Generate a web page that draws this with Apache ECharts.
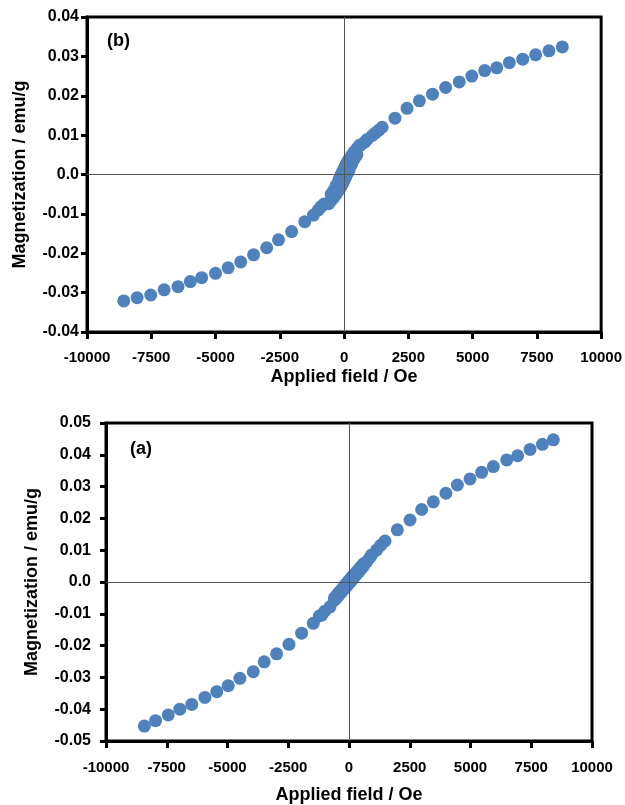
<!DOCTYPE html>
<html>
<head>
<meta charset="utf-8">
<script src="https://cdn.jsdelivr.net/npm/echarts@6/dist/echarts.min.js"></script>
<style>
  html, body { margin: 0; padding: 0; background: #fff; }
  #chart { width: 625px; height: 805px; }
</style>
</head>
<body>
<div id="chart"></div>
<script>
// Panel (b): applied field (Oe) and magnetization (emu/g)
const fieldB = [8490, 7970, 7450, 6950, 6430, 5940, 5470, 4970, 4480, 3950, 3440, 2930, 2450, 1980, 1480, 1360, 1230, 1100, 900, 800, 650,
  600, 500, 400, 300, 200, 150, 100, 50, 0, -50, -100, -150, -200, -300, -400, -500,
  -600, -500, -400, -300, -200, -150, -100, -50, 0, 50, 100, 150, 200, 300, 400, 500,
  -780, -900, -1000, -1190, -1530, -2040, -2550, -3010, -3520, -4020, -4510, -5000, -5540, -5980, -6460, -7000, -7520, -8050, -8570];
const magB = [0.0324, 0.0314, 0.0304, 0.0293, 0.0284, 0.0271, 0.0264, 0.0250, 0.0235, 0.0221, 0.0204, 0.0187, 0.0168, 0.0143, 0.0120, 0.0113, 0.0106, 0.0099, 0.0089, 0.0082, 0.0075,
  0.0074, 0.0066, 0.0058, 0.0049, 0.0039, 0.0034, 0.0028, 0.0022, 0.0015, 0.0008, 0.0001, -0.0006, -0.0013, -0.0027, -0.0040, -0.0050,
  -0.0074, -0.0066, -0.0058, -0.0049, -0.0039, -0.0034, -0.0028, -0.0022, -0.0015, -0.0008, -0.0001, 0.0006, 0.0013, 0.0027, 0.0040, 0.0050,
  -0.0075, -0.0082, -0.0090, -0.0103, -0.0120, -0.0145, -0.0166, -0.0186, -0.0204, -0.0222, -0.0237, -0.0251, -0.0262, -0.0272, -0.0285, -0.0293, -0.0306, -0.0313, -0.0321];

// Panel (a)
const fieldA = [8410, 7960, 7450, 6940, 6490, 5940, 5460, 4980, 4460, 3990, 3470, 2990, 2510, 1990, 1480, 1300, 1140, 930, 860, 730,
  600, 500, 400, 300, 200, 150, 100, 50, 0, -50, -100, -150, -200, -300, -400, -500, -600,
  -600, -500, -400, -300, -200, -150, -100, -50, 0, 50, 100, 150, 200, 300, 400, 500, 600,
  -780, -1000, -1120, -1220, -1470, -1950, -2470, -2980, -3490, -3940, -4490, -4970, -5440, -5930, -6470, -6960, -7440, -7960, -8420];
const magA = [0.0447, 0.0433, 0.0417, 0.0397, 0.0384, 0.0363, 0.0345, 0.0324, 0.0305, 0.0279, 0.0252, 0.0228, 0.0195, 0.0164, 0.0129, 0.0115, 0.0101, 0.0085, 0.0077, 0.0064,
  0.0057, 0.0049, 0.0040, 0.0031, 0.0022, 0.0018, 0.0013, 0.0009, 0.0004, 0.0000, -0.0005, -0.0009, -0.0014, -0.0023, -0.0032, -0.0041, -0.0050,
  -0.0057, -0.0049, -0.0040, -0.0031, -0.0022, -0.0018, -0.0013, -0.0009, -0.0004, 0.0000, 0.0005, 0.0009, 0.0014, 0.0023, 0.0032, 0.0041, 0.0050,
  -0.0078, -0.0092, -0.0104, -0.0107, -0.0130, -0.0161, -0.0196, -0.0226, -0.0251, -0.0282, -0.0303, -0.0326, -0.0345, -0.0363, -0.0385, -0.0400, -0.0418, -0.0436, -0.0453];

const xTicks = { min: -10000, max: 10000, interval: 2500 };
const yTicksB = { min: -0.04, max: 0.04, interval: 0.01 };
const yTicksA = { min: -0.05, max: 0.05, interval: 0.01 };

const FONT = "'Liberation Sans', Arial, sans-serif";
const DOT = '#4F81BD';

function pairs(xs, ys) { return xs.map((x, i) => [x, ys[i]]); }
function yFmt(v) { return Math.abs(v) < 1e-9 ? '0.0' : v.toFixed(2); }
function xFmt(v) { return String(Math.round(v)); }

function xAxisFor(gridIndex, labelMargin, nameGap) {
  return {
    gridIndex, type: 'value', min: xTicks.min, max: xTicks.max, interval: xTicks.interval,
    name: 'Applied field / Oe', nameLocation: 'middle', nameGap,
    nameTextStyle: { fontFamily: FONT, fontWeight: 'bold', fontSize: 18, color: '#000' },
    axisLine: { show: true, onZero: false, lineStyle: { color: '#000', width: 3 } },
    axisTick: { show: true, length: 7, lineStyle: { color: '#000', width: 3 } },
    axisLabel: { margin: labelMargin, fontFamily: FONT, fontWeight: 'bold', fontSize: 15, color: '#000', formatter: xFmt },
    splitLine: { show: false }
  };
}
function yAxisFor(gridIndex, ticks, labelMargin, nameGap) {
  return {
    gridIndex, type: 'value', min: ticks.min, max: ticks.max, interval: ticks.interval,
    name: 'Magnetization / emu/g', nameLocation: 'middle', nameGap,
    nameTextStyle: { fontFamily: FONT, fontWeight: 'bold', fontSize: 18, color: '#000' },
    axisLine: { show: true, onZero: false, lineStyle: { color: '#000', width: 3 } },
    axisTick: { show: true, length: 6, lineStyle: { color: '#000', width: 3 } },
    axisLabel: { margin: labelMargin, fontFamily: FONT, fontWeight: 'bold', fontSize: 16, color: '#000', formatter: yFmt },
    splitLine: { show: false }
  };
}
function zeroLines() {
  return {
    silent: true, symbol: 'none', label: { show: false },
    lineStyle: { color: '#555', width: 1, type: 'solid' },
    data: [{ xAxis: 0 }, { yAxis: 0 }]
  };
}

const chart = echarts.init(document.getElementById('chart'), null, { renderer: 'canvas' });
chart.setOption({
  animation: false,
  backgroundColor: '#fff',
  grid: [
    { left: 87, top: 17, width: 516, height: 315, show: true, borderColor: '#000', borderWidth: 3 },
    { left: 106, top: 423, width: 486, height: 318, show: true, borderColor: '#000', borderWidth: 3 }
  ],
  xAxis: [xAxisFor(0, 18, 36), xAxisFor(1, 19, 45)],
  yAxis: [yAxisFor(0, yTicksB, 8, 58), yAxisFor(1, yTicksA, 15, 65)],
  graphic: [
    { type: 'text', left: 107, top: 32, style: { text: '(b)', font: "bold 18px 'Liberation Sans', Arial", fill: '#000' } },
    { type: 'text', left: 130, top: 440, style: { text: '(a)', font: "bold 18px 'Liberation Sans', Arial", fill: '#000' } }
  ],
  series: [
    { type: 'scatter', xAxisIndex: 0, yAxisIndex: 0, symbol: 'circle', symbolSize: 13,
      itemStyle: { color: DOT, opacity: 1 }, data: pairs(fieldB, magB), markLine: zeroLines(), z: 3 },
    { type: 'scatter', xAxisIndex: 1, yAxisIndex: 1, symbol: 'circle', symbolSize: 13,
      itemStyle: { color: DOT, opacity: 1 }, data: pairs(fieldA, magA), markLine: zeroLines(), z: 3 }
  ]
});
</script>
</body>
</html>
